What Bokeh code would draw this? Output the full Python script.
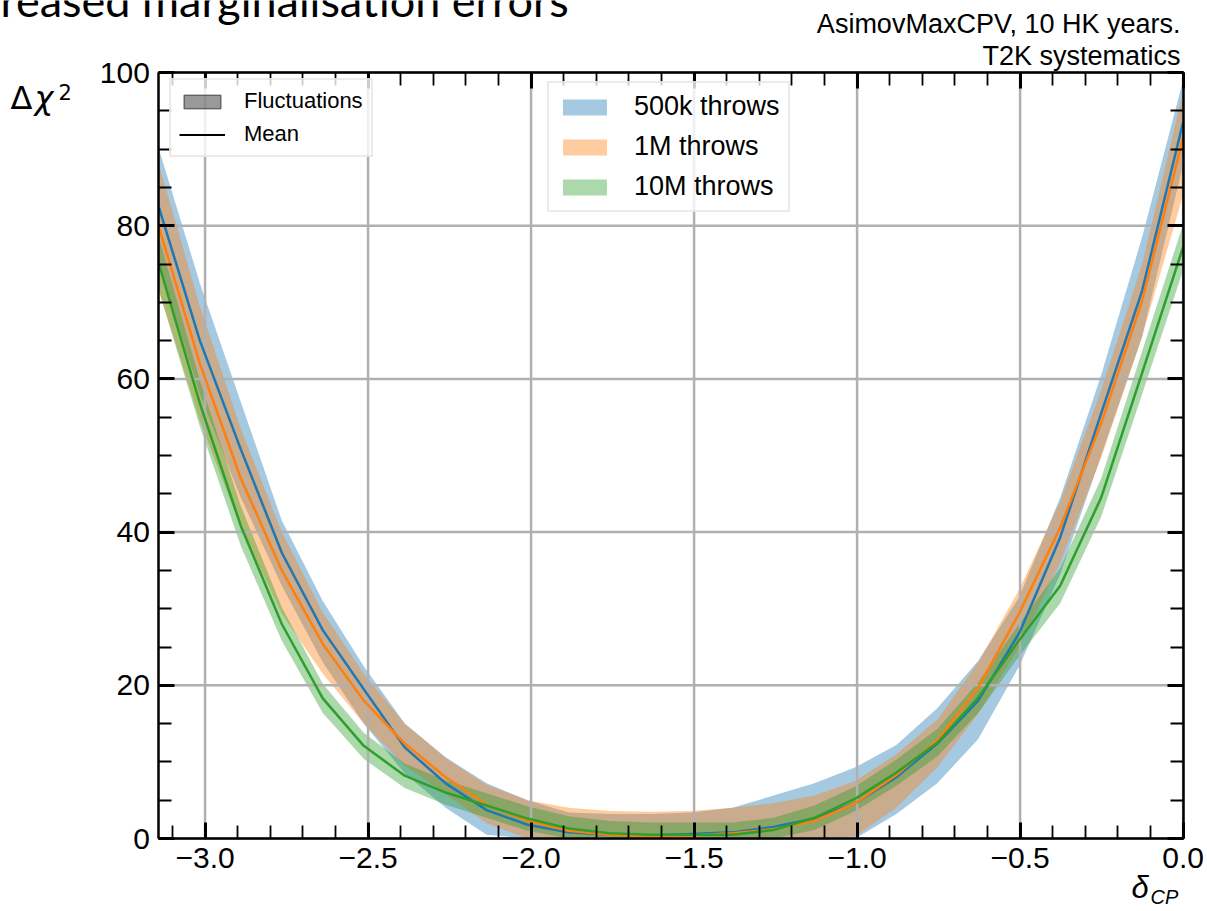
import numpy as np
from bokeh.plotting import figure
from bokeh.models import (Range1d, FixedTicker, LinearAxis, Legend, LegendItem, Label,
                          CustomJSTickFormatter)
from bokeh.embed import file_html
from bokeh.resources import INLINE

# ---------------- data ----------------
delta_cp = [-3.1416, -3.0159, -2.8903, -2.7646, -2.6389, -2.5133, -2.3876, -2.2619,
            -2.1363, -2.0106, -1.8850, -1.7593, -1.6336, -1.5080, -1.3823, -1.2566,
            -1.1310, -1.0053, -0.8796, -0.7540, -0.6283, -0.5027, -0.3770, -0.2513,
            -0.1257, 0.0]

mean_500k = [82.4, 65.0, 50.8, 37.3, 27.2, 19.5, 11.9, 7.2, 3.7, 1.8, 0.8, 0.5, 0.4,
             0.6, 0.8, 1.5, 2.6, 4.6, 8.0, 12.4, 18.0, 26.8, 39.3, 55.5, 71.5, 93.5]
low_500k = [75.0, 58.0, 44.5, 33.0, 23.0, 15.0, 8.5, 4.0, 0.5, -2.0, -3.0, -3.5, -3.5,
            -3.0, -2.5, -2.0, -1.0, 0.0, 3.2, 7.2, 13.0, 22.5, 34.5, 50.0, 65.5, 88.0]
up_500k = [90.0, 72.5, 57.0, 41.5, 31.0, 22.5, 15.0, 10.6, 7.2, 5.0, 3.4, 3.2, 3.2,
           3.4, 4.0, 5.6, 7.2, 9.3, 12.2, 17.0, 23.2, 31.5, 44.5, 60.5, 78.5, 99.0]

mean_1m = [79.8, 62.0, 47.0, 35.0, 25.4, 18.0, 12.4, 8.0, 4.4, 2.3, 1.0, 0.5, 0.3,
           0.4, 0.7, 1.2, 2.3, 4.6, 8.3, 12.8, 19.7, 29.4, 40.6, 54.2, 70.2, 91.5]
low_1m = [71.5, 54.5, 40.6, 29.3, 21.5, 15.0, 9.5, 5.8, 2.0, -0.5, -2.0, -2.5, -2.5,
          -2.5, -2.0, -1.5, -1.0, 0.3, 4.0, 9.3, 16.3, 25.0, 36.0, 49.7, 65.5, 84.0]
up_1m = [88.0, 69.5, 53.5, 40.0, 29.5, 21.5, 15.0, 10.5, 7.0, 5.0, 4.0, 3.6, 3.5,
         3.6, 4.0, 4.6, 5.6, 7.5, 11.0, 15.5, 23.0, 32.5, 44.0, 58.5, 75.0, 97.5]

mean_10m = [75.0, 56.8, 40.8, 28.0, 18.3, 12.1, 8.2, 6.0, 4.3, 2.6, 1.3, 0.7, 0.5,
            0.5, 0.5, 1.1, 2.7, 5.2, 8.6, 12.5, 18.4, 25.9, 33.0, 44.5, 60.8, 77.2]
low_10m = [71.5, 53.8, 38.2, 25.8, 16.4, 10.4, 6.6, 4.4, 2.7, 1.0, -0.3, -0.9, -1.1,
           -1.1, -1.1, -0.5, 1.1, 3.6, 6.9, 10.7, 16.4, 23.8, 30.7, 42.0, 58.0, 74.2]
up_10m = [78.5, 59.8, 43.4, 30.2, 20.2, 13.8, 9.8, 7.6, 5.9, 4.2, 2.9, 2.3, 2.1,
          2.1, 2.1, 2.7, 4.3, 6.8, 10.3, 14.3, 20.4, 28.0, 35.3, 47.0, 63.6, 80.2]

series_labels = ["500k throws", "1M throws", "10M throws"]
x_major_ticks = [-3.0, -2.5, -2.0, -1.5, -1.0, -0.5, 0.0]
y_major_ticks = [0, 20, 40, 60, 80, 100]
X_MIN, X_MAX = -np.pi, 0.0
Y_MIN, Y_MAX = 0.0, 100.0

# ---------------- layout (pixels) ----------------
W, H = 1207, 911
PX_L, PX_R, PX_T, PX_B = 158.4, 1182.6, 72.0, 838.0   # axes box in canvas pixels
sx = (X_MAX - X_MIN) / (PX_R - PX_L)
sy = (Y_MAX - Y_MIN) / (PX_B - PX_T)
xr = Range1d(X_MIN - PX_L * sx, X_MAX + (W - PX_R) * sx)
yr = Range1d(Y_MIN - (H - PX_B) * sy, Y_MAX + PX_T * sy)

colors = ["#1f77b4", "#ff7f0e", "#2ca02c"]
FONT = "Liberation Sans"
x_minor_ticks = [round(-3.1 + 0.1 * i, 1) for i in range(32)]
y_minor_ticks = list(range(0, 101, 5))

p = figure(width=W, height=H, x_range=xr, y_range=yr,
           output_backend="svg", toolbar_location=None,
           x_axis_location=None, y_axis_location=None, min_border=0)
p.outline_line_color = None
p.background_fill_color = "white"
p.border_fill_color = "white"
p.xgrid.visible = False
p.ygrid.visible = False

xt = FixedTicker(ticks=x_major_ticks, minor_ticks=x_minor_ticks)
yt = FixedTicker(ticks=y_major_ticks, minor_ticks=y_minor_ticks)

def style_axis(ax, show_labels):
    ax.axis_line_width = 2.5
    ax.axis_line_color = "black"
    ax.major_tick_in = 16
    ax.major_tick_out = 0
    ax.major_tick_line_width = 3
    ax.minor_tick_in = 13
    ax.minor_tick_out = 0
    ax.minor_tick_line_width = 1.8
    ax.major_label_standoff = 9
    ax.major_label_text_font = FONT
    ax.major_label_text_color = "black"
    if show_labels:
        ax.major_label_text_font_size = "30px"
    else:
        ax.major_label_text_font_size = "0px"
        ax.formatter = CustomJSTickFormatter(code="return '';")

xfmt = CustomJSTickFormatter(code="return tick.toFixed(1).replace('-', '\\u2212');")
yfmt = CustomJSTickFormatter(code="return tick.toFixed(0);")

ax_b = LinearAxis(ticker=xt, formatter=xfmt, fixed_location=Y_MIN, bounds=(X_MIN, X_MAX))
ax_t = LinearAxis(ticker=xt, fixed_location=Y_MAX, bounds=(X_MIN, X_MAX))
ax_l = LinearAxis(ticker=yt, formatter=yfmt, fixed_location=X_MIN, bounds=(Y_MIN, Y_MAX))
ax_r = LinearAxis(ticker=yt, fixed_location=X_MAX, bounds=(Y_MIN, Y_MAX))
style_axis(ax_b, True)
style_axis(ax_l, True)
style_axis(ax_t, False)
style_axis(ax_r, False)
p.add_layout(ax_b, "below")
p.add_layout(ax_t, "above")
p.add_layout(ax_l, "left")
p.add_layout(ax_r, "right")

# grid lines at the major ticks, limited to the axes box
gv = p.segment(x0=x_major_ticks, x1=x_major_ticks,
               y0=[Y_MIN] * len(x_major_ticks), y1=[Y_MAX] * len(x_major_ticks),
               line_color="#b0b0b0", line_width=2.5)
gh = p.segment(x0=[X_MIN] * len(y_major_ticks), x1=[X_MAX] * len(y_major_ticks),
               y0=y_major_ticks, y1=y_major_ticks,
               line_color="#b0b0b0", line_width=2.5)
gv.level = "underlay"
gh.level = "underlay"

# bands (below grid), clipped to the axes box
lows = [low_500k, low_1m, low_10m]
ups = [up_500k, up_1m, up_10m]
means = [mean_500k, mean_1m, mean_10m]
band_renderers = []
for lo, up, c in zip(lows, ups, colors):
    r = p.varea(x=delta_cp, y1=np.clip(lo, Y_MIN, Y_MAX), y2=np.clip(up, Y_MIN, Y_MAX),
                fill_color=c, fill_alpha=0.4)
    r.level = "image"
    band_renderers.append(r)

for m, c in zip(means, colors):
    p.line(delta_cp, m, line_color=c, line_width=2.5)

# legend proxies (hidden renderers)
fl = p.quad(left=delta_cp[:1], right=delta_cp[1:2], top=mean_500k[:1], bottom=mean_500k[1:2],
            fill_color="black", fill_alpha=0.4,
            line_color="black", line_alpha=0.45, line_width=1.5)
fl.visible = False
ml = p.line(x=delta_cp[:2], y=mean_500k[:2], line_color="black", line_width=2)
ml.visible = False

leg1 = Legend(items=[LegendItem(label="Fluctuations", renderers=[fl]),
                     LegendItem(label="Mean", renderers=[ml])],
              location=(169, H - 157), orientation="vertical",
              glyph_width=46, glyph_height=17, label_standoff=19,
              padding=8, spacing=7, label_height=23, margin=0,
              label_text_font=FONT, label_text_font_size="22px",
              label_text_color="black",
              border_line_color="#d8d8d8", border_line_width=2,
              background_fill_alpha=0.8)
leg2 = Legend(items=[LegendItem(label=lab, renderers=[r])
                     for lab, r in zip(series_labels, band_renderers)],
              location=(547, H - 212), orientation="vertical",
              glyph_width=55, glyph_height=20, label_standoff=22,
              padding=8, spacing=9, label_height=25, margin=0,
              label_text_font=FONT, label_text_font_size="27px",
              label_text_color="black",
              border_line_color="#d8d8d8", border_line_width=2,
              background_fill_alpha=0.8)
p.add_layout(leg1, "center")
p.add_layout(leg2, "center")

def lab(text, cx, base_y, size, font=FONT, style="normal", align="left"):
    # base_y: wanted baseline in canvas pixels from the top; Bokeh's label box
    # puts the glyph baseline about a third of the font size below the anchor
    anchor = base_y - 0.33 * size
    p.add_layout(Label(x=cx, y=H - anchor, x_units="screen", y_units="screen",
                       text=text, text_font=font, text_font_size=f"{size}px",
                       text_font_style=style, text_align=align,
                       text_baseline="alphabetic", text_color="black"))

lab("reased marginalisation errors", 0, 14, 45, font="Lato")
lab("AsimovMaxCPV, 10 HK years.", 1180, 32, 27, align="right")
lab("T2K systematics", 1180, 64, 27, align="right")
lab("Δ", 10, 108, 32, font="DejaVu Sans")
lab("χ", 34, 108, 32, font="DejaVu Sans", style="italic")
lab("2", 58, 98, 21, font="DejaVu Sans")
lab("δ", 1131, 897, 31, style="italic")
lab("CP", 1150, 903, 20, style="italic")

open("out.html", "w").write(file_html(p, INLINE))
